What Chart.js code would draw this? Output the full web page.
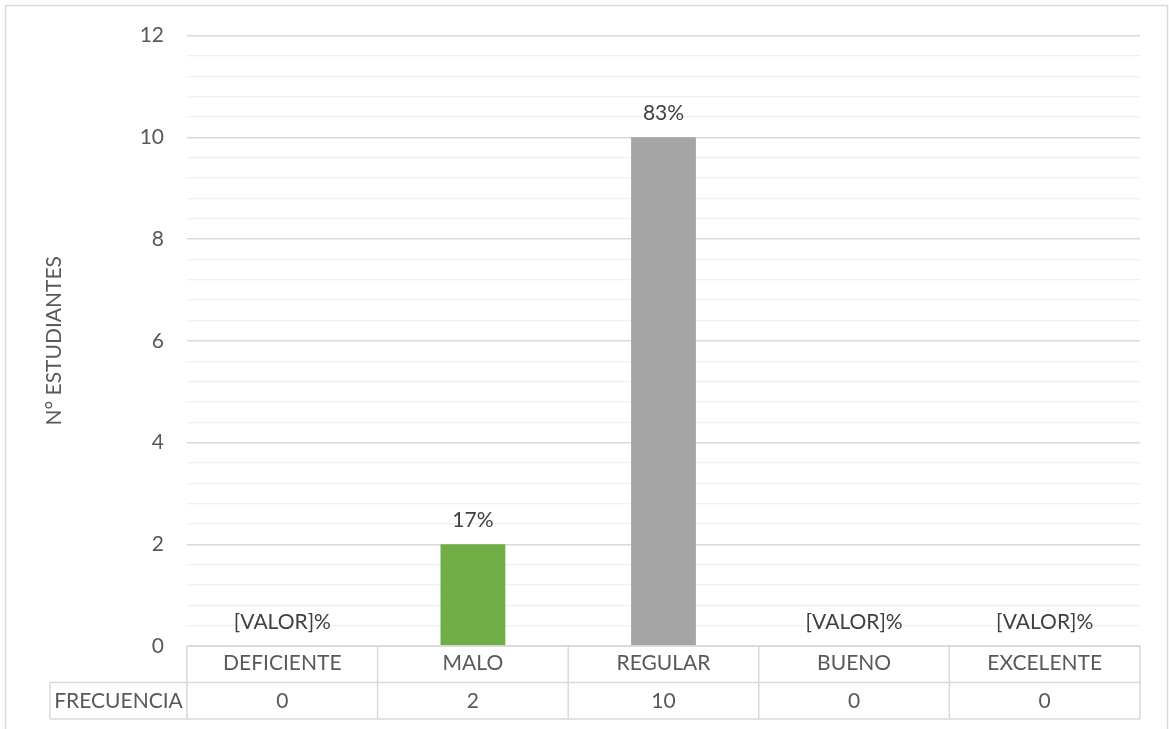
<!DOCTYPE html>
<html lang="es">
<head>
<meta charset="utf-8">
<title>N° estudiantes por nivel</title>
<script src="https://cdn.jsdelivr.net/npm/chart.js@4.4.1/dist/chart.umd.min.js"></script>
<style>
  html, body { margin: 0; padding: 0; background: #fff; }
  #wrap { width: 1169px; height: 729px; }
</style>
</head>
<body>
<div id="wrap"><canvas id="chart" width="1169" height="729"></canvas></div>
<script>
// Data
const categories = ['DEFICIENTE', 'MALO', 'REGULAR', 'BUENO', 'EXCELENTE'];
const frecuencia = [0, 2, 10, 0, 0];
const barColors = ['#4472C4', '#70AD47', '#A5A5A5', '#FFC000', '#5B9BD5'];
const yMin = 0;
const yMax = 12;
const yTickCount = 31; // majors every 2, four minors between
const rowLabel = 'FRECUENCIA';
const yTitle = 'N° ESTUDIANTES';

// Styles
const FONT = 'Lato';
const FONT_SIZE = 21;
const TEXT = '#595959';
const LABEL_TEXT = '#404040';
const LINE = '#D9D9D9';
const MINOR_LINE = '#F0F0F0';
const ROW_H = 36.5;
const ROW_LABEL_LEFT = 50;

function isMajor(v) {
  return Math.abs(v / 2 - Math.round(v / 2)) < 1e-6;
}

function percentLabel(v, total) {
  return v > 0 ? Math.round(v * 100 / total) + '%' : '[VALOR]%';
}

// Outer frame of the chart
const frame = {
  id: 'frame',
  beforeDraw(chart) {
    const ctx = chart.ctx;
    ctx.save();
    ctx.strokeStyle = LINE;
    ctx.lineWidth = 1.5;
    ctx.strokeRect(5.5, 5.5, 1162, 760);
    ctx.restore();
  }
};

// Percent labels above each bar
const barLabels = {
  id: 'barLabels',
  afterDatasetsDraw(chart) {
    const ctx = chart.ctx;
    const data = chart.data.datasets[0].data;
    const total = data.reduce((a, b) => a + b, 0);
    ctx.save();
    ctx.fillStyle = LABEL_TEXT;
    ctx.font = FONT_SIZE + 'px ' + FONT;
    ctx.textAlign = 'center';
    ctx.textBaseline = 'middle';
    chart.getDatasetMeta(0).data.forEach((bar, i) => {
      ctx.fillText(percentLabel(data[i], total), bar.x, bar.y - 24);
    });
    ctx.restore();
  }
};

// Data table under the plot: category row + frequency row
const dataTable = {
  id: 'dataTable',
  afterDraw(chart) {
    const { ctx, chartArea } = chart;
    const x = chart.scales.x;
    const data = chart.data.datasets[0].data;
    const top = chartArea.bottom;
    const mid = top + ROW_H;
    const bottom = mid + ROW_H;
    const half = (x.getPixelForValue(1) - x.getPixelForValue(0)) / 2;

    ctx.save();
    ctx.strokeStyle = LINE;
    ctx.lineWidth = 1.5;
    ctx.beginPath();
    ctx.moveTo(chartArea.left, top);
    ctx.lineTo(chartArea.right, top);
    ctx.moveTo(ROW_LABEL_LEFT, mid);
    ctx.lineTo(chartArea.right, mid);
    ctx.moveTo(ROW_LABEL_LEFT, bottom);
    ctx.lineTo(chartArea.right, bottom);
    ctx.moveTo(ROW_LABEL_LEFT, mid);
    ctx.lineTo(ROW_LABEL_LEFT, bottom);
    for (let i = 0; i <= data.length; i++) {
      const px = x.getPixelForValue(i) - half;
      ctx.moveTo(px, top);
      ctx.lineTo(px, bottom);
    }
    ctx.stroke();

    ctx.fillStyle = TEXT;
    ctx.font = FONT_SIZE + 'px ' + FONT;
    ctx.textAlign = 'center';
    ctx.textBaseline = 'middle';
    const rowY = mid + ROW_H / 2;
    data.forEach((v, i) => ctx.fillText(String(v), x.getPixelForValue(i), rowY));
    ctx.fillText(rowLabel, (ROW_LABEL_LEFT + chartArea.left) / 2, rowY);
    ctx.restore();
  }
};

const chart = new Chart(document.getElementById('chart'), {
  type: 'bar',
  data: {
    labels: categories,
    datasets: [{
      label: rowLabel,
      data: frecuencia,
      backgroundColor: barColors,
      borderWidth: 0,
      categoryPercentage: 1,
      barPercentage: 0.34
    }]
  },
  options: {
    responsive: false,
    devicePixelRatio: 1,
    animation: false,
    layout: { padding: { top: 34, right: 29, left: 0, bottom: 0 } },
    plugins: {
      legend: { display: false },
      tooltip: { enabled: false }
    },
    scales: {
      x: {
        afterFit: (scale) => { scale.height = 83; },
        grid: { display: false, drawTicks: false },
        border: { display: false },
        ticks: {
          color: TEXT,
          font: { family: FONT, size: FONT_SIZE },
          padding: 5,
          maxRotation: 0,
          autoSkip: false
        }
      },
      y: {
        min: yMin,
        max: yMax,
        afterFit: (scale) => { scale.width = 187; },
        border: { display: false },
        grid: {
          drawTicks: false,
          color: (ctx) => isMajor(ctx.tick.value) ? LINE : MINOR_LINE,
          lineWidth: (ctx) => isMajor(ctx.tick.value) ? 1.5 : 1.25
        },
        ticks: {
          count: yTickCount,
          autoSkip: false,
          padding: 23,
          color: TEXT,
          font: { family: FONT, size: FONT_SIZE },
          callback: (v) => isMajor(v) ? String(Math.round(v)) : ''
        },
        title: {
          display: true,
          text: yTitle,
          color: TEXT,
          font: { family: FONT, size: FONT_SIZE },
          padding: { top: 42, bottom: 0 }
        }
      }
    }
  },
  plugins: [frame, barLabels, dataTable]
});
</script>
</body>
</html>
